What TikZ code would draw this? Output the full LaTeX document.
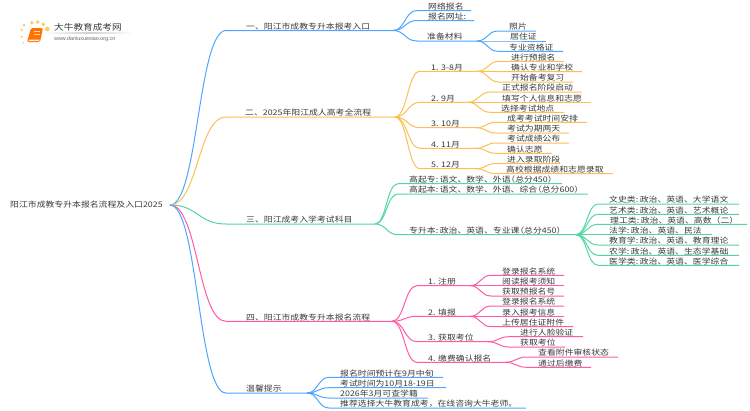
\documentclass[tikz,border=0pt]{standalone}
\usepackage{fontspec}
\setmainfont[FakeStretch=1.15]{Noto Sans CJK SC}
\newfontfamily\latinlogo{Liberation Sans}
\usetikzlibrary{calc}
\definecolor{cblue}{HTML}{4DA6FF}
\definecolor{corange}{HTML}{FBBF55}
\definecolor{cgreen}{HTML}{55D6A0}
\definecolor{cpink}{HTML}{FF5AA5}
\definecolor{ctext}{HTML}{3A3A3A}
\definecolor{cdot}{HTML}{FCCB5E}
\tikzset{
  lab/.style={inner sep=0pt,anchor=west,text=ctext,font=\fontsize{7.7}{8}\selectfont},
  conn/.style={line width=1pt},
  logodot/.style={fill=cdot,draw=none},
}
\newcommand{\hc}{:\kern1.6pt}
\newcommand{\lp}{\kern-4.2pt（}
\newcommand{\rp}{）}
% id, parent, colour, start x, end x, line y, text x, text
\newcommand{\topicnode}[8]{%
  \coordinate (#1-s) at (#4,#6);
  \coordinate (#1-e) at (#5,#6);
  \node[lab] (#1) at (#7,#6-4) {#8};
  \draw[conn,#3] let \p1=(#2-e),\p2=(#1-s) in
    (#2-e) .. controls ({0.5*\x1+0.5*\x2},\y1) and ({0.5*\x1+0.5*\x2},\y2) .. (#1-s) -- (#1-e);
}
\begin{document}
\begin{tikzpicture}[x=1pt,y=-1pt]
\useasboundingbox (0,0) rectangle (750,410);
% logo
\fill[logodot] (24,25) circle (1.5) (31.7,22.7) circle (1.9) (37.7,22) circle (1.9) (43.3,24.3) circle (1.9) (47.3,29) circle (2.3) (21.7,30) circle (1.3) (21.7,36.7) circle (1.1) (23.3,42.7) circle (0.9);
\fill[rounded corners=1.5pt,fill=orange!90!red] (31,28) -- (43,28) -- (40,42) -- (27,42) -- cycle;
\fill[white!85!orange] (29,39.5) -- (39.5,39.5) -- (39,41) -- (28.5,41) -- cycle;
\draw[white!70!orange,line width=0.7pt] (34,31.5) -- (40,31.5) (33.5,34) -- (39.5,34);
\shade[left color=white,right color=white,middle color=black!18] (44,32.8) rectangle (134,33.4);
\node[inner sep=0pt,anchor=west,text=ctext,font=\fontsize{8.4}{9}\selectfont] (logoname) at (54,27) {大牛教育成考网};
\node[inner sep=0pt,anchor=west,text=black!60,font=\latinlogo\fontsize{5.4}{6}\selectfont] (logourl) at (54,38.7) {www.daniuxuexiao.org.cn};
% root
\coordinate (root-e) at (170,205);
\node[lab] (root) at (10,204.5) {阳江市成教专升本报名流程及入口2025};
% branch 1
\topicnode{a}{root}{cblue}{226}{393}{30.5}{246}{一、阳江市成教专升本报考入口}
\topicnode{a1}{a}{cblue}{417}{471}{10.5}{428}{网络报名}
\topicnode{a2}{a}{cblue}{417}{474}{20.5}{428}{报名网址:}
\topicnode{a3}{a}{cblue}{417}{477}{41}{427}{准备材料}
\topicnode{a31}{a3}{cblue}{498}{536}{31}{509}{照片}
\topicnode{a32}{a3}{cblue}{498}{546}{41}{510}{居住证}
\topicnode{a33}{a3}{cblue}{498}{563}{51.3}{509}{专业资格证}
% branch 2
\topicnode{b}{root}{corange}{226}{395}{117}{245}{二、2025年阳江成人高考全流程}
\topicnode{b1}{b}{corange}{420}{477}{71.3}{431}{1. 3-8月}
\topicnode{b11}{b1}{corange}{499}{564}{61.3}{511}{进行预报名}
\topicnode{b12}{b1}{corange}{499}{582}{71.5}{511}{确认专业和学校}
\topicnode{b13}{b1}{corange}{499}{573}{82}{511}{开始备考复习}
\topicnode{b2}{b}{corange}{420}{468}{102.3}{431}{2. 9月}
\topicnode{b21}{b2}{corange}{490}{582}{92}{502}{正式报名阶段启动}
\topicnode{b22}{b2}{corange}{490}{591}{102.3}{502}{填写个人信息和志愿}
\topicnode{b23}{b2}{corange}{490}{564}{112.3}{501}{选择考试地点}
\topicnode{b3}{b}{corange}{420}{476}{127.7}{431}{3. 10月}
\topicnode{b31}{b3}{corange}{496}{587}{122.3}{507}{成考考试时间安排}
\topicnode{b32}{b3}{corange}{496}{569}{133}{507}{考试为期两天}
\topicnode{b4}{b}{corange}{420}{476}{148.3}{431}{4. 11月}
\topicnode{b41}{b4}{corange}{496}{569}{143}{507}{考试成绩公布}
\topicnode{b42}{b4}{corange}{496}{552}{153.3}{507}{确认志愿}
\topicnode{b5}{b}{corange}{420}{476}{168.7}{431}{5. 12月}
\topicnode{b51}{b5}{corange}{496}{560}{163.5}{507}{进入录取阶段}
\topicnode{b52}{b5}{corange}{496}{613}{173.7}{506}{高校根据成绩和志愿录取}
% branch 3
\topicnode{c}{root}{cgreen}{226}{375}{224}{246}{三、阳江成考入学考试科目}
\topicnode{c1}{c}{cgreen}{398}{562}{183.7}{409}{高起专\hc 语文、数学、外语\lp 总分450\rp}
\topicnode{c2}{c}{cgreen}{398}{588}{194}{409}{高起本\hc 语文、数学、外语、综合\lp 总分600\rp}
\topicnode{c3}{c}{cgreen}{398}{576}{234.7}{409}{专升本\hc 政治、英语、专业课\lp 总分450\rp}
\topicnode{c31}{c3}{cgreen}{598}{739}{204}{609}{文史类\hc 政治、英语、大学语文}
\topicnode{c32}{c3}{cgreen}{598}{739}{214.3}{609}{艺术类\hc 政治、英语、艺术概论}
\topicnode{c33}{c3}{cgreen}{598}{747}{224.3}{610}{理工类\hc 政治、英语、高数（二）}
\topicnode{c34}{c3}{cgreen}{598}{712}{234.7}{609}{法学\hc 政治、英语、民法}
\topicnode{c35}{c3}{cgreen}{598}{739}{245}{609}{教育学\hc 政治、英语、教育理论}
\topicnode{c36}{c3}{cgreen}{598}{739}{255.3}{609}{农学\hc 政治、英语、生态学基础}
\topicnode{c37}{c3}{cgreen}{598}{739}{265.3}{609}{医学类\hc 政治、英语、医学综合}
% branch 4
\topicnode{d}{root}{cpink}{226}{392}{321.3}{246}{四、阳江市成教专升本报名流程}
\topicnode{d1}{d}{cpink}{417}{470}{285.7}{428}{1. 注册}
\topicnode{d11}{d1}{cpink}{491}{564}{275.3}{502}{登录报名系统}
\topicnode{d12}{d1}{cpink}{491}{564}{285.7}{502}{阅读报考须知}
\topicnode{d13}{d1}{cpink}{491}{564}{296}{502}{获取预报名号}
\topicnode{d2}{d}{cpink}{417}{470}{316.3}{428}{2. 填报}
\topicnode{d21}{d2}{cpink}{491}{564}{306}{502}{登录报名系统}
\topicnode{d22}{d2}{cpink}{491}{564}{316.3}{502}{录入报考信息}
\topicnode{d23}{d2}{cpink}{491}{573}{326.7}{502}{上传居住证附件}
\topicnode{d3}{d}{cpink}{417}{488}{341.7}{428}{3. 获取考位}
\topicnode{d31}{d3}{cpink}{509}{583}{336.7}{520}{进行人脸验证}
\topicnode{d32}{d3}{cpink}{509}{565}{347}{520}{获取考位}
\topicnode{d4}{d}{cpink}{417}{505}{362.3}{428}{4. 缴费确认报名}
\topicnode{d41}{d4}{cpink}{527}{618}{357}{538}{查看附件审核状态}
\topicnode{d42}{d4}{cpink}{527}{591}{367.3}{538}{通过后缴费}
% branch 5
\topicnode{e}{root}{cblue}{226}{307}{393}{246}{温馨提示}
\topicnode{e1}{e}{cblue}{329}{443}{377.3}{340}{报名时间预计在9月中旬}
\topicnode{e2}{e}{cblue}{329}{446}{387.7}{340}{考试时间为10月18-19日}
\topicnode{e3}{e}{cblue}{329}{428}{398}{340}{2026年3月可查学籍}
\topicnode{e4}{e}{cblue}{329}{526}{408}{340}{推荐选择大牛教育成考，在线咨询大牛老师。}
\end{tikzpicture}
\end{document}
